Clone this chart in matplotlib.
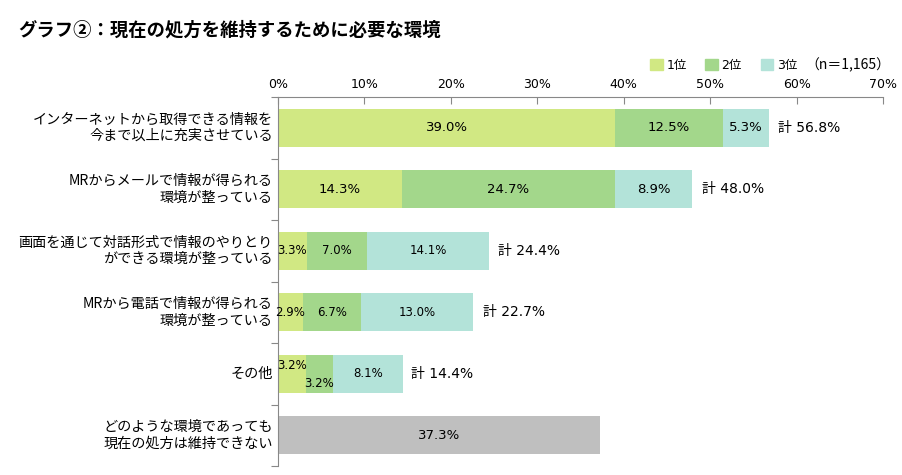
import matplotlib.pyplot as plt
from matplotlib.patches import Patch

plt.rcParams['font.family'] = ['DejaVu Sans', 'Noto Sans CJK JP']

# data
labels = ['インターネットから取得できる情報を\n今まで以上に充実させている',
          'MRからメールで情報が得られる\n環境が整っている',
          '画面を通じて対話形式で情報のやりとり\nができる環境が整っている',
          'MRから電話で情報が得られる\n環境が整っている',
          'その他',
          'どのような環境であっても\n現在の処方は維持できない']
rank1 = [39.0, 14.3, 3.3, 2.9, 3.2]
rank2 = [12.5, 24.7, 7.0, 6.7, 3.2]
rank3 = [5.3, 8.9, 14.1, 13.0, 8.1]
totals = [56.8, 48.0, 24.4, 22.7, 14.4]
none_value = 37.3
series_names = ['1位', '2位', '3位']
n_note = '（n＝1,165）'

c1, c2, c3, cg = '#d1e883', '#a3d78b', '#b3e3d9', '#bfbfbf'

fig = plt.figure(figsize=(9.02, 4.75), dpi=100)
ax = fig.add_axes([278/902, 1-466/475, 605/902, 369/475])

h = 0.62
for i in range(5):
    l1, l2, l3 = rank1[i], rank2[i], rank3[i]
    ax.barh(i, l1, height=h, color=c1)
    ax.barh(i, l2, left=l1, height=h, color=c2)
    ax.barh(i, l3, left=l1 + l2, height=h, color=c3)
    fs = 8.5 if l1 < 5 else 9.5
    if i == 4:
        ax.text(l1 / 2, i - 0.13, f'{l1:.1f}%', ha='center', va='center', fontsize=fs)
        ax.text(l1 + l2 / 2, i + 0.16, f'{l2:.1f}%', ha='center', va='center', fontsize=fs)
    else:
        ax.text(l1 / 2, i, f'{l1:.1f}%', ha='center', va='center', fontsize=fs)
        ax.text(l1 + l2 / 2, i, f'{l2:.1f}%', ha='center', va='center', fontsize=fs)
    ax.text(l1 + l2 + l3 / 2, i, f'{l3:.1f}%', ha='center', va='center', fontsize=fs)
    ax.text(totals[i] + 1.0, i, f'計 {totals[i]:.1f}%', ha='left', va='center', fontsize=10)

ax.barh(5, none_value, height=h, color=cg)
ax.text(none_value / 2, 5, f'{none_value:.1f}%', ha='center', va='center', fontsize=9.5)

ax.set_xlim(0, 70)
ax.set_ylim(5.5, -0.5)
ax.xaxis.tick_top()
ax.set_xticks(range(0, 71, 10))
ax.set_xticklabels([f'{v}%' for v in range(0, 71, 10)], fontsize=9)
ax.tick_params(axis='x', direction='in', length=5, color='#888888', pad=4)
ax.set_yticks([v + 0.5 for v in range(-1, 6)])
ax.set_yticklabels([])
ax.tick_params(axis='y', direction='out', length=5, color='#888888')
for i, lab in enumerate(labels):
    ax.text(-0.6, i, lab, ha='right', va='center', fontsize=10.2,
            linespacing=1.25, family=['Noto Sans CJK JP', 'DejaVu Sans'])
for s in ['right', 'bottom']:
    ax.spines[s].set_visible(False)
ax.spines['top'].set_color('#888888')
ax.spines['left'].set_color('#888888')

fig.text(18/902, 1-30/475, 'グラフ②：現在の処方を維持するために必要な環境',
         fontsize=13.2, fontweight='bold', va='center',
         family=['Noto Sans CJK JP', 'DejaVu Sans'])

handles = [Patch(color=c) for c in (c1, c2, c3)]
fig.legend(handles, series_names, ncol=3, loc='center left',
           bbox_to_anchor=(650/902, 1-65/475), frameon=False, fontsize=9,
           handlelength=1.0, handleheight=1.0, handletextpad=0.3, columnspacing=1.5,
           borderpad=0.0, borderaxespad=0.0)
fig.text(805/902, 1-65/475, n_note, fontsize=10, va='center',
         family=['Noto Sans CJK JP', 'DejaVu Sans'])

fig.savefig('out.png', dpi=100)
